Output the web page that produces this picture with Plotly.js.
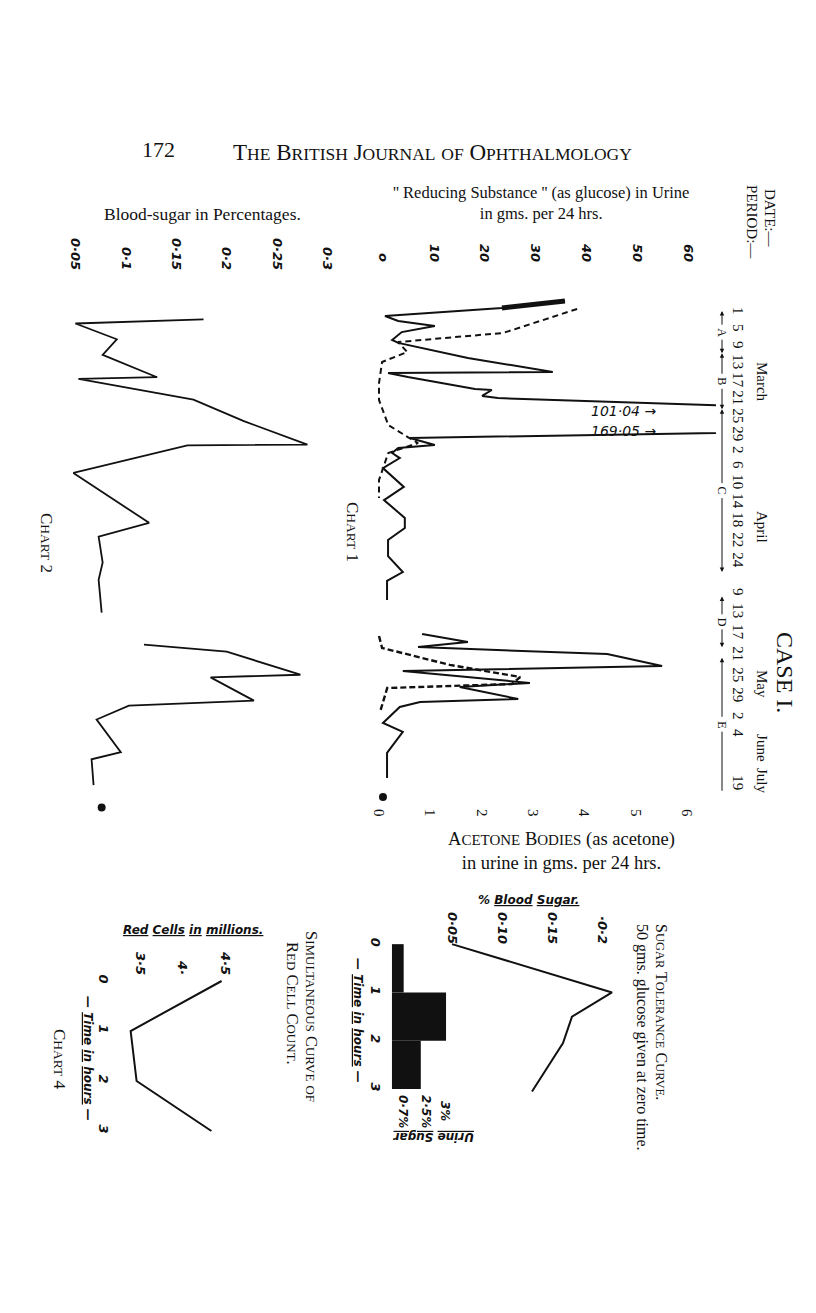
<!DOCTYPE html>
<html><head><meta charset="utf-8">
<script src="https://cdn.plot.ly/plotly-3.0.1.min.js"></script>
<style>html,body{margin:0;padding:0;background:#fff}#chart{width:816px;height:1313px}</style>
</head><body><div id="chart"></div>
<script>
// ---------- DATA ----------
// Date axis: positions are in "chart rows" (about 4 days per row in March-April)
const dateTickRows = [0, 0.97, 1.94, 2.91, 3.94, 4.97, 6.0, 7.03, 7.94, 8.8, 9.77, 10.86, 11.94, 13.09, 14.23, 16.06, 17.14, 18.34, 19.6, 20.8, 21.94, 23.14, 24.11, 26.97];
const dateTickLabels = ["1","5","9","13","17","21","25","29","2","6","10","14","18","22","24","9","13","17","21","25","29","2","4","19"];
const monthLabels = ["March","April","May","June","July"];
const monthRows = [3.94, 12.23, 21.2, 24.86, 26.74];
const periodLabels = ["A","B","C","D","E"];
const periodStartRow = [-0.11, 2.3, 5.5, 16.2, 19.7];
const periodEndRow = [2.3, 5.5, 14.8, 19.1, 27.3];

// Chart 1 - "Reducing substance" (as glucose) in urine, gms per 24 hrs (solid line)
const urineRows1 = [-0.69,-0.29,0.17,0.46,0.74,1.09,1.54,1.71,2.57,3.37,3.43,3.66,4.34,4.40,4.74,4.86,5.6,6.38,7.14,7.54,7.71,8.0,8.29,8.86,9.94,10.69,11.71,12.29,12.97,13.89,14.8,15.31,16.4];
const urineGms1  = [35.8,23.4,0.4,3.0,10.2,3.7,1.8,3.0,16.7,33.4,1.0,4.9,18.1,21.4,19.5,22.6,101.04,169.05,5.3,10.2,3.0,1.8,3.3,0,4.1,0.2,4.3,4.3,1.0,1.0,3.9,0.8,0.8];
const urineRows2 = [18.34,18.8,19.09,19.49,20.17,20.46,21.14,21.37,22.06,22.23,22.51,23.43,23.94,25.14,26.57];
const urineGms2  = [7.7,16.7,6.9,44.1,54.9,3.9,28.9,15.1,26.6,7.3,3.3,0,3.9,0.8,0.8];
const urineLastRow = [27.66];
const urineLastGms = [0];
const urineTickVals = [0,10,20,30,40,50,60];
const urineTickText = ["o","10","20","30","40","50","60"];
const offScaleLabels = ["101·04 →","169·05 →"];
const offScaleRows = [5.6, 6.75];

// Chart 1 - acetone bodies (as acetone) in urine, gms per 24 hrs (dashed line)
const acetoneRows1 = [-0.23,1.14,1.66,2.23,2.8,4.0,4.97,6.4,7.09,7.43,8.0,8.8,9.54,10.57];
const acetoneGms1  = [3.86,2.42,0.37,0.55,0.06,0,0,0.18,0.56,0.76,0.18,0.08,0,0];
const acetoneRows2 = [18.46,19.14,20.11,20.8,21.2,21.43,22.8];
const acetoneGms2  = [0,0.06,1.38,2.75,2.59,0.16,0.02];
const acetoneTickVals = [0,1,2,3,4,5,6];
const acetoneTickText = ["0","1","2","3","4","5","6"];

// Chart 2 - blood sugar in percentages
const bloodRows1 = [0.36,0.6,1.5,2.39,3.67,3.77,4.95,6.18,7.52,7.56,9.14,11.99,12.78,14.26,15.25,17.12];
const bloodPct1  = [0.177,0.050,0.091,0.077,0.131,0.053,0.167,0.217,0.280,0.161,0.048,0.123,0.073,0.077,0.073,0.076];
const bloodRows2 = [18.95,19.35,20.67,20.82,22.15,22.44,23.23,25.1,25.5,26.98];
const bloodPct2  = [0.118,0.200,0.273,0.184,0.227,0.103,0.071,0.095,0.066,0.068];
const bloodLastRow = [28.26];
const bloodLastPct = [0.076];
const bloodTickVals = [0.05,0.1,0.15,0.2,0.25,0.3];
const bloodTickText = ["0·05","0·1","0·15","0·2","0·25","0·3"];

// Sugar tolerance curve (50 gms glucose at zero time)
const gttHours = [0,1,1.5,2.05,3.05];
const gttBloodPct = [0.05,0.21,0.17,0.161,0.13];
const gttTickVals = [0.05,0.10,0.15,0.2];
const gttTickText = ["0·05","0·10","0·15","·0·2"];
const urineSugarHours = [0.5,1.5,2.5];
const urineSugarPct = [0.65,3.0,1.6];
const urineSugarLabels = ["0·7%","2·5%","3%"];
const hourTickVals = [0,1,2,3];
const hourTickText = ["0","1","2","3"];

// Chart 4 - red cell count
const redCellHours = [0,1,2,3];
const redCellMillions = [4.46,3.39,3.46,4.34];
const redTickVals = [3.5,4,4.5];
const redTickText = ["3·5","4·","4·5"];

// ---------- DRAWING ----------
const W = 816, H = 1313;
const fx = p => p / W;
const fy = p => 1 - p / H;
const SERIF = "Liberation Serif, DejaVu Serif, serif";
const HANDFAM = "DejaVu Sans, sans-serif";
const HAND = {family: HANDFAM, size: 13, color: "#111", weight: 700, style: "italic"};
const ink = "#111";

function line(x, y, xa, ya, opts) {
  return Object.assign({type: "scatter", mode: "lines", x: x, y: y, xaxis: xa, yaxis: ya,
    line: {color: ink, width: 2}, hoverinfo: "skip"}, opts || {});
}

const traces = [
  line(urineGms1, urineRows1, "x", "y"),
  line(urineGms1.slice(0, 2), urineRows1.slice(0, 2), "x", "y", {line: {color: ink, width: 5}}),
  line(urineGms2, urineRows2, "x", "y"),
  {type: "scatter", mode: "markers", x: urineLastGms, y: urineLastRow, xaxis: "x", yaxis: "y", marker: {color: ink, size: 8}, hoverinfo: "skip"},
  line(acetoneGms1, acetoneRows1, "x2", "y", {line: {color: ink, width: 2, dash: "6px,4px"}}),
  line(acetoneGms2, acetoneRows2, "x2", "y", {line: {color: ink, width: 2.4, dash: "6px,3px"}}),
  line(bloodPct1, bloodRows1, "x3", "y", {line: {color: ink, width: 1.8}}),
  line(bloodPct2, bloodRows2, "x3", "y", {line: {color: ink, width: 1.8}}),
  {type: "scatter", mode: "markers", x: bloodLastPct, y: bloodLastRow, xaxis: "x3", yaxis: "y", marker: {color: ink, size: 8}, hoverinfo: "skip"},
  {type: "bar", orientation: "h", x: urineSugarPct, y: urineSugarHours, width: 1, base: 0,
   xaxis: "x5", yaxis: "y2", marker: {color: ink, line: {width: 0}}, hoverinfo: "skip"},
  line(gttBloodPct, gttHours, "x4", "y2"),
  line(redCellMillions, redCellHours, "x6", "y3")
];

const noGrid = {showgrid: false, zeroline: false, showline: false, ticks: ""};

const layout = {
  width: W, height: H, margin: {l: 0, r: 0, t: 0, b: 0},
  paper_bgcolor: "#fff", plot_bgcolor: "rgba(0,0,0,0)", showlegend: false,
  font: {family: SERIF, color: ink},
  xaxis: Object.assign({domain: [fx(372.8), fx(716)], range: [-2, 65.5], anchor: "free", position: fy(264), side: "top",
    tickmode: "array", tickvals: urineTickVals, ticktext: urineTickText, tickangle: 90, tickfont: HAND}, noGrid),
  xaxis2: Object.assign({overlaying: "x", range: [-0.121, 6.565], anchor: "free", position: fy(808), side: "bottom",
    tickmode: "array", tickvals: acetoneTickVals, ticktext: acetoneTickText, tickangle: 90,
    tickfont: {family: SERIF, size: 15, color: ink}}, noGrid),
  xaxis3: Object.assign({domain: [fx(25), fx(378)], range: [0, 0.35], anchor: "free", position: fy(272), side: "top",
    tickmode: "array", tickvals: bloodTickVals, ticktext: bloodTickText, tickangle: 90, tickfont: HAND}, noGrid),
  yaxis: Object.assign({domain: [fy(817), fy(278)], range: [28.8, -2], anchor: "free", position: fx(729), side: "right",
    tickmode: "array", tickvals: dateTickRows, ticktext: dateTickLabels, tickangle: 90,
    tickfont: {family: SERIF, size: 15, color: ink}}, noGrid),
  xaxis4: Object.assign({domain: [fx(432), fx(622)], range: [0.03, 0.22], anchor: "free", position: fy(946), side: "top",
    tickmode: "array", tickvals: gttTickVals, ticktext: gttTickText, tickangle: 90, tickfont: HAND}, noGrid),
  xaxis5: Object.assign({domain: [fx(388), fx(470)], range: [-0.22, 4.33], anchor: "free", position: fy(1120),
    showticklabels: false}, noGrid),
  yaxis2: Object.assign({domain: [fy(1118), fy(920)], range: [3.6, -0.5], anchor: "free", position: fx(384), side: "left",
    tickmode: "array", tickvals: hourTickVals, ticktext: hourTickText, tickangle: 90, tickfont: HAND}, noGrid),
  xaxis6: Object.assign({domain: [fx(97.5), fx(250.5)], range: [3.0, 4.8], anchor: "free", position: fy(977), side: "top",
    tickmode: "array", tickvals: redTickVals, ticktext: redTickText, tickangle: 90, tickfont: HAND}, noGrid),
  yaxis3: Object.assign({domain: [fy(1151), fy(951)], range: [3.4, -0.6], anchor: "free", position: fx(112), side: "left",
    tickmode: "array", tickvals: hourTickVals, ticktext: hourTickText, tickangle: 90, tickfont: HAND}, noGrid),
  annotations: []
};

function ann(text, x, y, size, extra) {
  const a = {text: text, x: fx(x), y: fy(y), xref: "paper", yref: "paper", showarrow: false,
    xanchor: "center", yanchor: "middle", font: {family: SERIF, size: size, color: ink}};
  if (extra) {
    if (extra.font) { Object.assign(a.font, extra.font); }
    for (const k in extra) { if (k !== "font") a[k] = extra[k]; }
  }
  return a;
}
// small capitals: lowercase runs become smaller upper-case letters
function SC(str, small) {
  return str.replace(/[a-z]+/g, m => '<span style="font-size:' + small + 'px">' + m.toUpperCase() + '</span>');
}
const rot = {textangle: 90};
const handI = {font: {family: HANDFAM, style: "italic", weight: 700}};
const handRot = Object.assign({textangle: 90}, handI);
const U = t => '<span style="text-decoration:underline">' + t + '</span>';

layout.annotations.push(
  ann("172", 158, 150, 22),
  ann(SC("The British Journal of Ophthalmology", 17.5), 432, 152, 23),
  ann("'' Reducing Substance '' (as glucose) in Urine<br>in gms. per 24 hrs.", 541, 203, 16.5),
  ann("Blood-sugar in Percentages.", 202, 214, 17.5),
  ann("DATE:—", 770, 218, 15, rot),
  ann("PERIOD:—", 752, 222, 15, rot),
  ann("CASE I.", 785, 672, 24, rot),
  ann(SC("Chart 1", 13.5), 352, 532, 17, rot),
  ann(SC("Chart 2", 13.5), 47, 543, 17, rot),
  ann(SC("Acetone Bodies", 15) + " (as acetone)<br>in urine in gms. per 24 hrs.", 561, 851, 18.5),
  ann(SC("Sugar Tolerance Curve.", 12.5), 662, 1012, 16, rot),
  ann("50 gms. glucose given at zero time.", 642, 1037, 16, rot),
  ann("% " + U("Blood") + " " + U("Sugar."), 528, 900, 12, handI),
  ann(U("Urine") + " " + U("Sugar"), 433, 1137, 12, Object.assign({textangle: 180}, handI)),
  ann("— " + U("Time") + " " + U("in") + " " + U("hours") + " —", 358, 1020, 12, handRot),
  ann(SC("Simultaneous Curve of", 13), 311, 1016, 16.5, rot),
  ann(SC("Red Cell Count.", 13), 293, 1003, 16.5, rot),
  ann(U("Red") + " " + U("Cells") + " " + U("in") + " " + U("millions."), 193, 930, 12, handI),
  ann("— " + U("Time") + " " + U("in") + " " + U("hours") + " —", 88, 1058, 12, handRot),
  ann(SC("Chart 4", 13.5), 60, 1059, 17, rot)
);

// urine sugar percentages written under the bars
const urineSugarLabelX = [403, 426, 445];
urineSugarLabels.forEach((t, i) => {
  layout.annotations.push(ann(t, urineSugarLabelX[i], 1111, 12, handRot));
});

// month names above the date row (placed on the date axis)
monthLabels.forEach((m, i) => {
  layout.annotations.push({text: m, xref: "paper", x: fx(762), yref: "y", y: monthRows[i], showarrow: false,
    textangle: 90, xanchor: "center", yanchor: "middle", font: {family: SERIF, size: 15, color: ink}});
});
// off-scale values of the urine curve
offScaleLabels.forEach((t, i) => {
  layout.annotations.push({text: t, xref: "paper", x: fx(623), yref: "y", y: offScaleRows[i], showarrow: false,
    xanchor: "center", yanchor: "middle", font: {family: HANDFAM, size: 14, style: "italic", color: ink}});
});
// period arrows (A-E)
periodLabels.forEach((p, i) => {
  const a = periodStartRow[i], b = periodEndRow[i], mid = (a + b) / 2;
  const px = fx(722);
  const head = {xref: "paper", x: px, yref: "y", axref: "pixel", ayref: "y", ax: 0, ay: mid,
    showarrow: true, arrowhead: 2, arrowsize: 0.9, arrowwidth: 1, arrowcolor: ink, startstandoff: 6, text: ""};
  layout.annotations.push(Object.assign({}, head, {y: a}));
  if (i < periodLabels.length - 1) {
    layout.annotations.push(Object.assign({}, head, {y: b}));
  } else {
    layout.annotations.push(Object.assign({}, head, {y: b, arrowhead: 0}));
  }
  layout.annotations.push({text: p, xref: "paper", x: px, yref: "y", y: mid, showarrow: false, textangle: 90,
    bgcolor: "#fff", xanchor: "center", yanchor: "middle", font: {family: SERIF, size: 12, color: ink}});
});

Plotly.newPlot("chart", traces, layout, {displayModeBar: false, staticPlot: true});
</script></body></html>
